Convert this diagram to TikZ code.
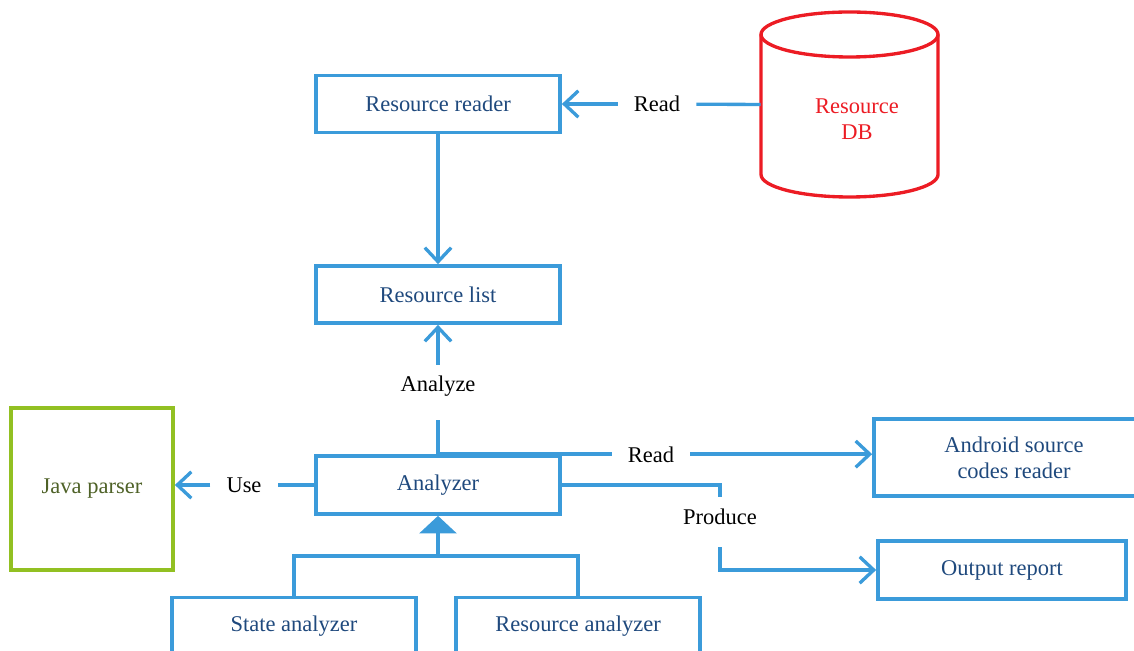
\documentclass[tikz,border=0pt]{standalone}
\usepackage{fontspec}
\setmainfont{Liberation Serif}
\usetikzlibrary{positioning,arrows.meta}
\definecolor{lineColor}{RGB}{59,155,218}
\definecolor{boxText}{RGB}{31,73,125}
\definecolor{javaColor}{RGB}{146,192,34}
\definecolor{javaText}{RGB}{79,98,40}
\definecolor{dbColor}{RGB}{236,28,36}
\newcommand{\pxu}{0.02cm}
\tikzstyle{diagram} = [x = \pxu, y = -\pxu, font=\fontsize{12.8}{14.6}\selectfont]
\tikzstyle{classBox} = [draw=lineColor, line width=2.1pt, text=boxText, minimum width=244*\pxu, minimum height=57*\pxu, align=center]
\tikzstyle{flowLine} = [draw=lineColor, line width=1.9pt]
\tikzstyle{flowArrow} = [flowLine, -{Straight Barb[length=8pt, width=15pt]}]
\tikzstyle{inheritArrow} = [flowLine, -{Triangle[length=10pt, width=21pt]}]
\tikzstyle{flowLabel} = [inner xsep=9pt, inner ysep=3pt, text=black]
\tikzstyle{dbLine} = [draw=dbColor, line width=1.9pt]
\begin{document}
\begin{tikzpicture}[diagram]
  \useasboundingbox (0,0) rectangle (1134,651);
  % boxes
  \node [classBox] (reader) at (438,104) {Resource reader};
  \node [classBox] (list) at (438,294.5) {Resource list};
  \node [classBox, minimum height=58*\pxu] (analyzer) at (438,485) {Analyzer};
  \node [classBox, draw=javaColor, text=javaText, minimum width=162*\pxu, minimum height=162*\pxu] (java) at (92,489) {Java parser};
  \node [classBox, minimum width=280*\pxu, minimum height=77*\pxu] (android) at (1014,457.5) {Android source\\codes reader};
  \node [classBox, minimum width=248*\pxu, minimum height=58*\pxu] (output) at (1002,570) {Output report};
  \node [classBox] (state) at (294,626) {State analyzer};
  \node [classBox] (resAnalyzer) at (578,626) {Resource analyzer};

  % database
  \node [minimum width=177*\pxu, minimum height=185*\pxu, inner sep=0pt] (db) at (849.5,104.5) {};
  \draw [dbLine] (849.5,34.5) ellipse [x radius=88.5, y radius=22.5];
  \draw [dbLine] (761,34.5) -- (761,174.5) arc [start angle=180, end angle=0, x radius=88.5, y radius=22.5] -- (938,34.5);
  \node [text=dbColor, align=center] (dbText) at (857,119) {Resource\\DB};

  % connectors
  \node [flowLabel] (readDb) at (657,104) {Read};
  \draw [flowLine] (db.west) -- (readDb);
  \draw [flowArrow] (readDb) -- (reader);
  \draw [flowArrow] (reader) -- (list);

  \node [flowLabel, inner ysep=0pt, text height=14.7pt, text depth=16.4pt] (analyze) at (438,392.5) {Analyze};
  \draw [flowLine] (analyzer) -- (analyze);
  \draw [flowArrow] (analyze) -- (list);

  \node [flowLabel] (readSrc) at (651,455) {Read};
  \draw [flowLine] (analyzer.north) -- (analyzer.north -| readSrc.west);
  \draw [flowArrow] (readSrc.east |- analyzer.north) -- (analyzer.north -| android.west);

  \node [flowLabel, inner ysep=0pt, text height=15.3pt, text depth=13pt] (produce) at (720,522) {Produce};
  \draw [flowLine] (analyzer.east) -| (produce.north);
  \draw [flowArrow] (produce.south) |- (output.west);

  \node [flowLabel] (useLabel) at (244,485) {Use};
  \draw [flowLine] (analyzer.west) -- (useLabel);
  \draw [flowArrow] (useLabel.west) -- (useLabel.west -| java.east);

  % inheritance
  \coordinate (branch) at (438,556);
  \draw [flowLine] (state.north) |- (branch) -| (resAnalyzer.north);
  \draw [inheritArrow] (branch) -- (analyzer.south);
\end{tikzpicture}
\end{document}
